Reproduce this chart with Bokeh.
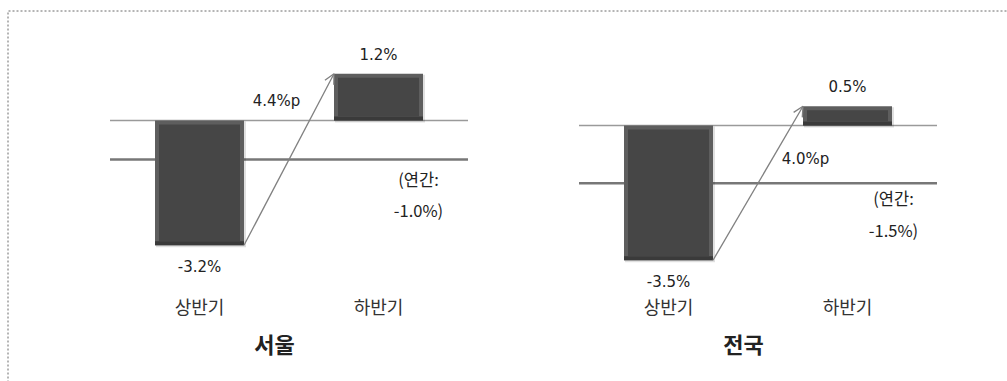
from bokeh.plotting import figure
from bokeh.models import Range1d, Arrow, OpenHead
from bokeh.core.properties import value
from bokeh.embed import file_html
from bokeh.resources import INLINE

# ---- data ----
panels = ["서울", "전국"]
halves = ["상반기", "하반기"]
seoul_vals = [-3.2, 1.2]
nation_vals = [-3.5, 0.5]
annual_vals = [-1.0, -1.5]
change_vals = [4.4, 4.0]
series = [seoul_vals, nation_vals]

# ---- layout constants (pixels) ----
W, H = 1007, 381
CAT_PX = 179
BAR_PX = 89
panel_x0 = [199, 668]
zero_px = [120, 125]
pct_px = [39.0, 38.5]
title_dx = 75
change_pos = [(77, 20), (137, -33)]      # dx px, dy px above zero line
annual_txt_dy = [(19, 50), (15, 47)]      # px below annual line
annual_txt_dx = [219, 225]

KFONT = value("Noto Sans CJK KR")
NFONT = value("DejaVu Sans")

p = figure(width=W, height=H, output_backend="svg", toolbar_location=None,
           x_range=Range1d(0, W), y_range=Range1d(H, 0), min_border=0)
p.axis.visible = False
p.grid.visible = False
p.outline_line_color = None
p.background_fill_color = "white"
p.border_fill_color = "white"

# dotted frame (top & left visible)
p.line(x=[7.5, 7.5, W + 5], y=[H + 5, 10.5, 10.5], line_color="#6a6a6a", line_width=1, line_dash="2 2")

for i, vals in enumerate(series):
    rn = f"panel{i}"
    ppu = pct_px[i]
    p.extra_y_ranges[rn] = Range1d(start=-(H - zero_px[i]) / ppu, end=zero_px[i] / ppu)
    xs = [panel_x0[i] + k * CAT_PX for k in range(len(vals))]
    x_left = xs[0] - CAT_PX / 2
    x_right = xs[-1] + CAT_PX / 2

    # zero line and annual line
    p.segment(x0=[x_left], x1=[x_right], y0=[0], y1=[0], y_range_name=rn,
              line_color="#9a9a9a", line_width=1.5)
    p.segment(x0=[x_left], x1=[x_right], y0=[annual_vals[i]], y1=[annual_vals[i]], y_range_name=rn,
              line_color="#777777", line_width=2.5)

    tops = [max(v, 0) for v in vals]
    bots = [min(v, 0) for v in vals]
    lefts = [x - BAR_PX / 2 for x in xs]
    rights = [x + BAR_PX / 2 for x in xs]
    # soft shadow
    p.quad(left=[l + 1 for l in lefts], right=[r + 2 for r in rights],
           top=[t - 1 / ppu for t in tops], bottom=[b - 2 / ppu for b in bots],
           y_range_name=rn, fill_color="#000000", fill_alpha=0.12, line_color=None)
    # bevel outer
    p.quad(left=lefts, right=rights, top=tops, bottom=bots, y_range_name=rn,
           fill_color="#5e5e5e", line_color=None)
    # bottom darker edge
    p.quad(left=lefts, right=rights, top=[b + 4 / ppu for b in bots], bottom=bots, y_range_name=rn,
           fill_color="#3a3a3a", line_color=None)
    # inner face
    p.quad(left=[l + 4 for l in lefts], right=[r - 4 for r in rights],
           top=[t - 4 / ppu for t in tops], bottom=[b + 4 / ppu for b in bots],
           y_range_name=rn, fill_color="#464646", line_color=None)

    # arrow
    arrow = Arrow(x_start=rights[0], y_start=vals[0], x_end=lefts[1], y_end=vals[1],
                  y_range_name=rn, line_color="#808080", line_width=1.3,
                  end=OpenHead(size=10, line_color="#808080", line_width=1.3))
    p.add_layout(arrow)

    # value labels
    lab_y = [v + (19 / ppu if v > 0 else -22 / ppu) for v in vals]
    p.text(x=xs, y=lab_y, text=[f"{v:.1f}%" for v in vals], y_range_name=rn,
           text_font=NFONT, text_font_size="15px", text_color="#222222",
           text_align="center", text_baseline="middle")

    # change label
    dx, dy = change_pos[i]
    p.text(x=[xs[0] + dx], y=[dy / ppu], text=[f"{change_vals[i]:.1f}%p"], y_range_name=rn,
           text_font=NFONT, text_font_size="15px", text_color="#222222",
           text_align="center", text_baseline="middle")

    # annual labels
    d1, d2 = annual_txt_dy[i]
    p.text(x=[xs[0] + annual_txt_dx[i]] * 2,
           y=[annual_vals[i] - d1 / ppu, annual_vals[i] - d2 / ppu],
           text=["(연간:", f"{annual_vals[i]:.1f}%)"], y_range_name=rn,
           text_font=KFONT, text_font_size="16.5px", text_color="#222222",
           text_align="center", text_baseline="middle")

    # category labels
    p.text(x=xs, y=[305] * len(xs), text=halves,
           text_font=KFONT, text_font_size="18px", text_color="#333333",
           text_align="center", text_baseline="middle")
    # panel title
    p.text(x=[panel_x0[i] + title_dx], y=[342], text=[panels[i]],
           text_font=KFONT, text_font_size="22px", text_font_style="bold", text_color="#222222",
           text_align="center", text_baseline="middle")

open("out.html", "w").write(file_html(p, INLINE))
